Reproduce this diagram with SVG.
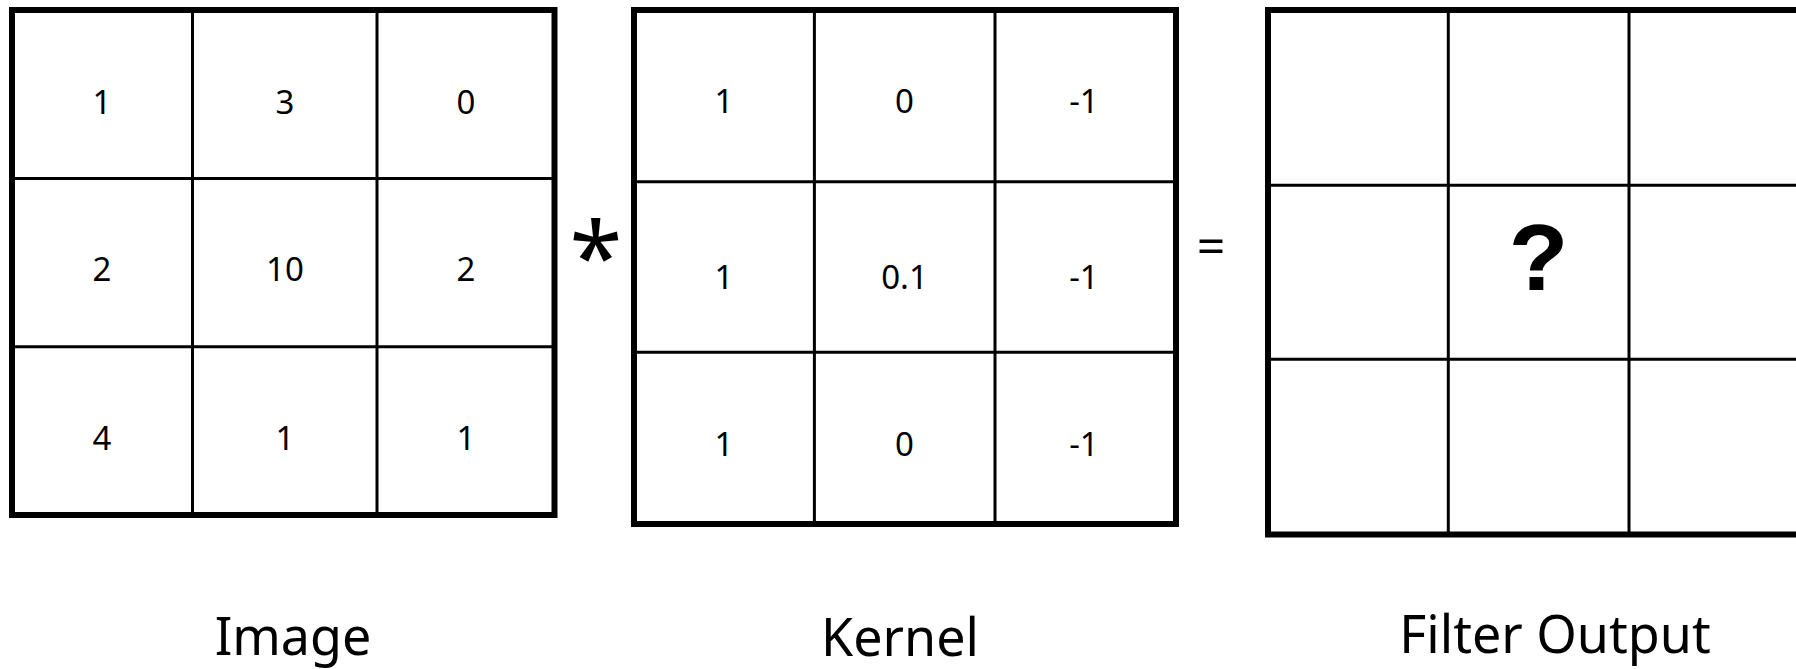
<svg xmlns="http://www.w3.org/2000/svg" width="1796" height="669" viewBox="0 0 1796 669">
<style>
.outer{fill:none;stroke:#000;stroke-width:6}
.inner{stroke:#000;stroke-width:3}
.num{font-family:"Noto Sans","Open Sans",sans-serif;font-size:33px;text-anchor:middle;fill:#000}
.lbl{font-family:"Noto Sans","Open Sans",sans-serif;font-size:52px;text-anchor:middle;fill:#000}
.q{font-family:"Liberation Mono","DejaVu Sans Mono",monospace;font-weight:bold;font-size:98px;text-anchor:middle;fill:#000}
.op{font-family:"Noto Sans","Open Sans",sans-serif;text-anchor:middle;fill:#000}
</style>
<rect width="1796" height="669" fill="#fff"/>
<g id="image">
<line class="inner" x1="192.5" y1="10" x2="192.5" y2="515"/>
<line class="inner" x1="377" y1="10" x2="377" y2="515"/>
<line class="inner" x1="12" y1="178.5" x2="554.5" y2="178.5"/>
<line class="inner" x1="12" y1="346.7" x2="554.5" y2="346.7"/>
<rect class="outer" x="12" y="10" width="542.5" height="505"/>
<text class="num" x="102" y="114">1</text>
<text class="num" x="285" y="114">3</text>
<text class="num" x="466" y="114">0</text>
<text class="num" x="102" y="281">2</text>
<text class="num" x="285" y="281">10</text>
<text class="num" x="466" y="281">2</text>
<text class="num" x="102" y="450">4</text>
<text class="num" x="285" y="450">1</text>
<text class="num" x="466" y="450">1</text>
</g>
<g id="kernel">
<line class="inner" x1="814.4" y1="10" x2="814.4" y2="524"/>
<line class="inner" x1="995" y1="10" x2="995" y2="524"/>
<line class="inner" x1="634" y1="181.7" x2="1176" y2="181.7"/>
<line class="inner" x1="634" y1="352.3" x2="1176" y2="352.3"/>
<rect class="outer" x="634" y="10" width="542" height="514"/>
<text class="num" x="724" y="113">1</text>
<text class="num" x="904.5" y="113">0</text>
<text class="num" x="1084" y="113">-1</text>
<text class="num" x="724" y="289">1</text>
<text class="num" x="904.5" y="289">0.1</text>
<text class="num" x="1084" y="289">-1</text>
<text class="num" x="724" y="456">1</text>
<text class="num" x="904.5" y="456">0</text>
<text class="num" x="1084" y="456">-1</text>
</g>
<g id="output">
<line class="inner" x1="1448.3" y1="10" x2="1448.3" y2="534.5"/>
<line class="inner" x1="1629" y1="10" x2="1629" y2="534.5"/>
<line class="inner" x1="1268" y1="185.2" x2="1809" y2="185.2"/>
<line class="inner" x1="1268" y1="359.3" x2="1809" y2="359.3"/>
<rect class="outer" x="1268" y="10" width="541" height="524.5"/>
<text class="q" x="1539" y="290">?</text>
</g>
<g id="operators">
<text class="op" x="596" y="292" font-size="96" font-family="Liberation Serif, serif">*</text>
<text class="op" x="1211" y="264" font-size="50">=</text>
</g>
<g id="labels">
<text class="lbl" x="293" y="655">Image</text>
<text class="lbl" x="900" y="656">Kernel</text>
<text class="lbl" x="1555" y="653" font-size="53">Filter Output</text>
</g>
<g id="connectors"/>
</svg>
